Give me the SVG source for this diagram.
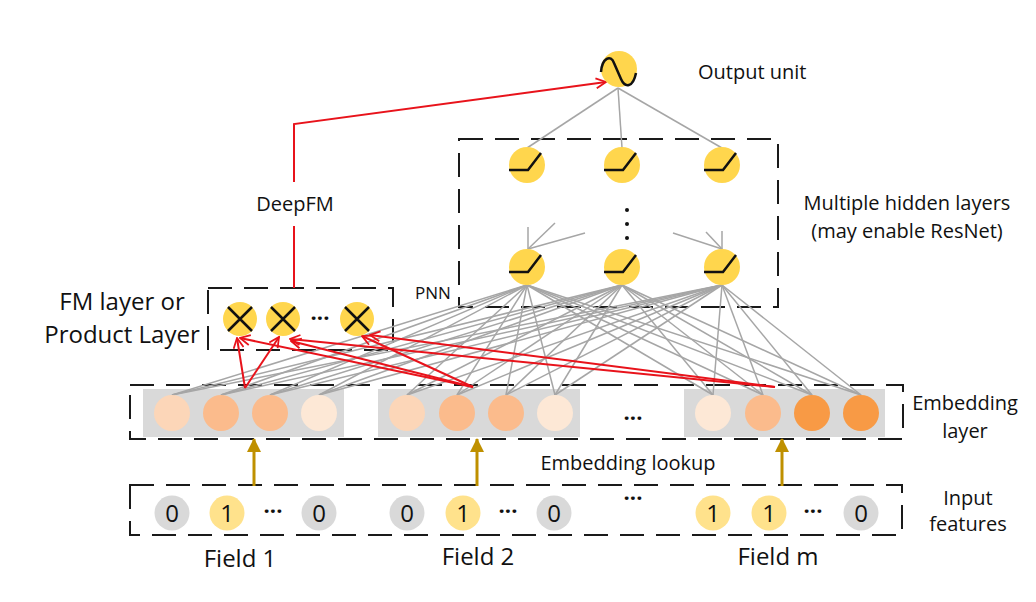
<svg xmlns="http://www.w3.org/2000/svg" width="1036" height="602" viewBox="0 0 1036 602">
<defs>
<style>
text{font-family:"Open Sans","Noto Sans","Liberation Sans",sans-serif;fill:#111}
.lbl{font-size:20px}
.big{font-size:24px}
.box{fill:none;stroke:#1a1a1a;stroke-width:2;stroke-dasharray:24 12}
.g{stroke:#a6a6a6;stroke-width:1.5;fill:none}
.r{stroke:#e8131b;stroke-width:2;fill:none}
.gold{stroke:#bf9000;stroke-width:3;fill:none}
.hid{fill:#ffd64d}
.act{stroke:#111;stroke-width:2.5;fill:none}
.erect{fill:#d9d9d9}
.c1{fill:#fcd6b8}.c2{fill:#fbbb8c}.c3{fill:#fde8d6}.c4{fill:#f89a45}
.in0{fill:#d9d9d9}.in1{fill:#ffe28c}
.dig{font-size:24px;text-anchor:middle}
.dots{font-size:22px;text-anchor:middle;font-weight:bold}
</style>
<marker id="ra" viewBox="0 0 12 12" refX="11" refY="6" markerWidth="12" markerHeight="12" markerUnits="userSpaceOnUse" orient="auto">
<path d="M1,1 L11,6 L1,11" fill="none" stroke="#e8131b" stroke-width="1.8"/>
</marker>
<marker id="ga" viewBox="0 0 14 14" refX="13" refY="7" markerWidth="14" markerHeight="14" markerUnits="userSpaceOnUse" orient="auto">
<path d="M0,0 L14,7 L0,14 Z" fill="#bf9000"/>
</marker>
</defs>
<rect width="1036" height="602" fill="#fff"/>

<!-- dashed boxes -->
<g id="hidden-box"><rect class="box" x="459" y="139" width="319" height="168"/></g>
<g id="fm-box"><rect class="box" x="208" y="288" width="185" height="62"/></g>
<g id="embedding-box"><rect class="box" x="130" y="385" width="773" height="54"/></g>
<g id="input-box"><rect class="box" x="130" y="485" width="772" height="50"/></g>

<!-- embedding gray panels -->
<g id="embedding-panels">
<rect class="erect" x="143" y="389" width="201" height="48"/>
<rect class="erect" x="378" y="389" width="202" height="48"/>
<rect class="erect" x="684" y="389" width="201" height="48"/>
</g>

<g id="connectors">
<!-- output to hidden -->
<line class="g" x1="618" y1="88" x2="527" y2="148"/>
<line class="g" x1="618" y1="88" x2="622" y2="148"/>
<line class="g" x1="618" y1="88" x2="722" y2="148"/>
<!-- partial lines into lower hidden -->
<line class="g" x1="528" y1="227" x2="528" y2="249"/>
<line class="g" x1="555" y1="223" x2="528" y2="249"/>
<line class="g" x1="585" y1="233" x2="528" y2="249"/>
<line class="g" x1="673" y1="233" x2="722" y2="249"/>
<line class="g" x1="706" y1="232" x2="722" y2="249"/>
<line class="g" x1="722" y1="231" x2="722" y2="249"/>
<!-- hidden to embedding -->
<g class="g">
<line x1="527" y1="285" x2="172" y2="395"/><line x1="527" y1="285" x2="221" y2="395"/><line x1="527" y1="285" x2="270" y2="395"/><line x1="527" y1="285" x2="319" y2="395"/>
<line x1="527" y1="285" x2="407" y2="395"/><line x1="527" y1="285" x2="457" y2="395"/><line x1="527" y1="285" x2="506" y2="395"/><line x1="527" y1="285" x2="555" y2="395"/>
<line x1="527" y1="285" x2="713" y2="395"/><line x1="527" y1="285" x2="763" y2="395"/><line x1="527" y1="285" x2="812" y2="395"/><line x1="527" y1="285" x2="861" y2="395"/>
<line x1="622" y1="285" x2="172" y2="395"/><line x1="622" y1="285" x2="221" y2="395"/><line x1="622" y1="285" x2="270" y2="395"/><line x1="622" y1="285" x2="319" y2="395"/>
<line x1="622" y1="285" x2="407" y2="395"/><line x1="622" y1="285" x2="457" y2="395"/><line x1="622" y1="285" x2="506" y2="395"/><line x1="622" y1="285" x2="555" y2="395"/>
<line x1="622" y1="285" x2="713" y2="395"/><line x1="622" y1="285" x2="763" y2="395"/><line x1="622" y1="285" x2="812" y2="395"/><line x1="622" y1="285" x2="861" y2="395"/>
<line x1="722" y1="285" x2="172" y2="395"/><line x1="722" y1="285" x2="221" y2="395"/><line x1="722" y1="285" x2="270" y2="395"/><line x1="722" y1="285" x2="319" y2="395"/>
<line x1="722" y1="285" x2="407" y2="395"/><line x1="722" y1="285" x2="457" y2="395"/><line x1="722" y1="285" x2="506" y2="395"/><line x1="722" y1="285" x2="555" y2="395"/>
<line x1="722" y1="285" x2="713" y2="395"/><line x1="722" y1="285" x2="763" y2="395"/><line x1="722" y1="285" x2="812" y2="395"/><line x1="722" y1="285" x2="861" y2="395"/>
</g>
<!-- red FM connections -->
<line class="r" x1="245" y1="388" x2="237" y2="338" marker-end="url(#ra)"/>
<line class="r" x1="245" y1="388" x2="279" y2="337" marker-end="url(#ra)"/>
<line class="r" x1="473" y1="387" x2="240" y2="338" marker-end="url(#ra)"/>
<line class="r" x1="473" y1="387" x2="291" y2="341" marker-end="url(#ra)"/>
<line class="r" x1="473" y1="387" x2="362" y2="336" marker-end="url(#ra)"/>
<line class="r" x1="775" y1="387" x2="290" y2="339" marker-end="url(#ra)"/>
<line class="r" x1="775" y1="387" x2="370" y2="335" marker-end="url(#ra)"/>
<!-- DeepFM path -->
<polyline class="r" points="294,288 294,226"/>
<polyline class="r" points="294,182 294,124 606,82" marker-end="url(#ra)"/>
<!-- embedding lookup arrows -->
<line class="gold" x1="254" y1="486" x2="254" y2="439" marker-end="url(#ga)"/>
<line class="gold" x1="477" y1="486" x2="477" y2="439" marker-end="url(#ga)"/>
<line class="gold" x1="782" y1="486" x2="782" y2="439" marker-end="url(#ga)"/>
</g>

<!-- output node -->
<g id="output-unit">
<circle class="hid" cx="619" cy="69" r="18"/>
<path class="act" d="M601,72 C602,58 611,54 614,63 L621,79 C625,88 633,88 636,73"/>
</g>

<!-- hidden nodes -->
<g id="h1-1"><circle class="hid" cx="527" cy="165" r="18"/><path class="act" d="M509,170 L528,170 L541,153"/></g>
<g id="h1-2"><circle class="hid" cx="622" cy="165" r="18"/><path class="act" d="M604,170 L623,170 L636,153"/></g>
<g id="h1-3"><circle class="hid" cx="722" cy="165" r="18"/><path class="act" d="M704,170 L723,170 L736,153"/></g>
<g id="h2-1"><circle class="hid" cx="527" cy="267" r="18"/><path class="act" d="M509,272 L528,272 L541,255"/></g>
<g id="h2-2"><circle class="hid" cx="622" cy="267" r="18"/><path class="act" d="M604,272 L623,272 L636,255"/></g>
<g id="h2-3"><circle class="hid" cx="722" cy="267" r="18"/><path class="act" d="M704,272 L723,272 L736,255"/></g>
<g id="vdots" fill="#111"><circle cx="627" cy="210" r="2"/><circle cx="627" cy="224" r="2"/><circle cx="627" cy="238" r="2"/></g>

<!-- FM nodes -->
<g id="fm1"><circle class="hid" cx="240" cy="319" r="17"/><path class="act" stroke-width="2" d="M228,307 L252,331 M252,307 L228,331"/></g>
<g id="fm2"><circle class="hid" cx="283" cy="319" r="17"/><path class="act" stroke-width="2" d="M271,307 L295,331 M295,307 L271,331"/></g>
<g id="fm3"><circle class="hid" cx="357" cy="319" r="17"/><path class="act" stroke-width="2" d="M345,307 L369,331 M369,307 L345,331"/></g>
<text class="dots" x="320" y="326">···</text>

<!-- embedding nodes -->
<g id="emb-field1">
<circle class="c1" cx="172" cy="413" r="18"/><circle class="c2" cx="221" cy="413" r="18"/><circle class="c2" cx="270" cy="413" r="18"/><circle class="c3" cx="319" cy="413" r="18"/>
</g>
<g id="emb-field2">
<circle class="c1" cx="407" cy="413" r="18"/><circle class="c2" cx="457" cy="413" r="18"/><circle class="c2" cx="506" cy="413" r="18"/><circle class="c3" cx="555" cy="413" r="18"/>
</g>
<g id="emb-fieldm">
<circle class="c3" cx="713" cy="413" r="18"/><circle class="c2" cx="763" cy="413" r="18"/><circle class="c4" cx="812" cy="413" r="18"/><circle class="c4" cx="861" cy="413" r="18"/>
</g>
<text class="dots" x="633" y="426">···</text>

<!-- input nodes -->
<g id="in-field1">
<circle class="in0" cx="172" cy="513" r="17.5"/><text class="dig" x="172" y="522">0</text>
<circle class="in1" cx="227" cy="513" r="17.5"/><text class="dig" x="227" y="522">1</text>
<text class="dots" x="273" y="519">···</text>
<circle class="in0" cx="319" cy="513" r="17.5"/><text class="dig" x="319" y="522">0</text>
</g>
<g id="in-field2">
<circle class="in0" cx="407" cy="513" r="17.5"/><text class="dig" x="407" y="522">0</text>
<circle class="in1" cx="463" cy="513" r="17.5"/><text class="dig" x="463" y="522">1</text>
<text class="dots" x="508" y="519">···</text>
<circle class="in0" cx="554" cy="513" r="17.5"/><text class="dig" x="554" y="522">0</text>
</g>
<text class="dots" x="633" y="506">···</text>
<g id="in-fieldm">
<circle class="in1" cx="713" cy="513" r="17.5"/><text class="dig" x="713" y="522">1</text>
<circle class="in1" cx="769" cy="513" r="17.5"/><text class="dig" x="769" y="522">1</text>
<text class="dots" x="813" y="519">···</text>
<circle class="in0" cx="861" cy="513" r="17.5"/><text class="dig" x="861" y="522">0</text>
</g>

<!-- labels -->
<g id="labels">
<text class="lbl" x="698" y="79">Output unit</text>
<text class="lbl" x="907" y="210" text-anchor="middle">Multiple hidden layers</text>
<text class="lbl" x="907" y="238" text-anchor="middle">(may enable ResNet)</text>
<text class="lbl" x="295" y="211" text-anchor="middle">DeepFM</text>
<text x="415" y="299" font-size="17">PNN</text>
<text class="big" x="122" y="310" text-anchor="middle">FM layer or</text>
<text class="big" x="122" y="343" text-anchor="middle">Product Layer</text>
<text class="lbl" x="965" y="410" text-anchor="middle">Embedding</text>
<text class="lbl" x="965" y="438" text-anchor="middle">layer</text>
<text class="lbl" x="628" y="470" text-anchor="middle">Embedding lookup</text>
<text class="lbl" x="968" y="505" text-anchor="middle">Input</text>
<text class="lbl" x="968" y="531" text-anchor="middle">features</text>
<text class="big" x="240" y="567" text-anchor="middle">Field 1</text>
<text class="big" x="478" y="565" text-anchor="middle">Field 2</text>
<text class="big" x="778" y="565" text-anchor="middle">Field m</text>
</g>
</svg>
